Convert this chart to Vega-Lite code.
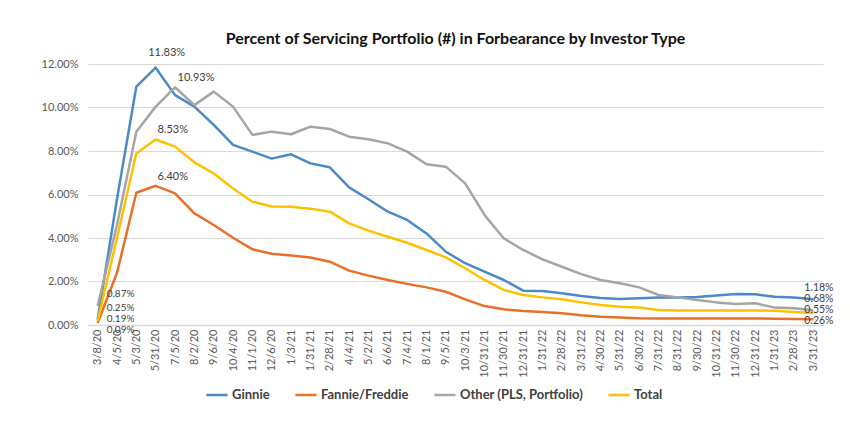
{
  "$schema": "https://vega.github.io/schema/vega-lite/v6.json",
  "width": 735,
  "height": 261,
  "autosize": {"type": "none"},
  "padding": {"left": 88, "top": 64, "right": 27, "bottom": 96},
  "background": "white",
  "title": {
    "text": "Percent of Servicing Portfolio (#) in Forbearance by Investor Type",
    "font": "Lato",
    "fontSize": 16,
    "fontWeight": "bold",
    "color": "#111111",
    "offset": 0,
    "anchor": "middle"
  },
  "config": {
    "view": {"stroke": null},
    "font": "Lato",
    "axis": {"labelFont": "Lato", "labelColor": "#595959", "labelFontSize": 11}
  },
  "data": {
    "values": [
      {"date":"3/8/20","series":"Ginnie","value":0.0025},
      {"date":"4/5/20","series":"Ginnie","value":0.058},
      {"date":"5/3/20","series":"Ginnie","value":0.1096},
      {"date":"5/31/20","series":"Ginnie","value":0.1183},
      {"date":"7/5/20","series":"Ginnie","value":0.1057},
      {"date":"8/2/20","series":"Ginnie","value":0.1004},
      {"date":"9/6/20","series":"Ginnie","value":0.092},
      {"date":"10/4/20","series":"Ginnie","value":0.0828},
      {"date":"11/1/20","series":"Ginnie","value":0.0797},
      {"date":"12/6/20","series":"Ginnie","value":0.0765},
      {"date":"1/3/21","series":"Ginnie","value":0.0785},
      {"date":"1/31/21","series":"Ginnie","value":0.0743},
      {"date":"2/28/21","series":"Ginnie","value":0.0725},
      {"date":"4/4/21","series":"Ginnie","value":0.0633},
      {"date":"5/2/21","series":"Ginnie","value":0.0578},
      {"date":"6/6/21","series":"Ginnie","value":0.0521},
      {"date":"7/4/21","series":"Ginnie","value":0.0483},
      {"date":"8/1/21","series":"Ginnie","value":0.0421},
      {"date":"9/5/21","series":"Ginnie","value":0.0337},
      {"date":"10/3/21","series":"Ginnie","value":0.0284},
      {"date":"10/31/21","series":"Ginnie","value":0.0245},
      {"date":"11/30/21","series":"Ginnie","value":0.0207},
      {"date":"12/31/21","series":"Ginnie","value":0.0158},
      {"date":"1/31/22","series":"Ginnie","value":0.0156},
      {"date":"2/28/22","series":"Ginnie","value":0.0146},
      {"date":"3/31/22","series":"Ginnie","value":0.0133},
      {"date":"4/30/22","series":"Ginnie","value":0.0124},
      {"date":"5/31/22","series":"Ginnie","value":0.012},
      {"date":"6/30/22","series":"Ginnie","value":0.0123},
      {"date":"7/31/22","series":"Ginnie","value":0.0126},
      {"date":"8/31/22","series":"Ginnie","value":0.0127},
      {"date":"9/30/22","series":"Ginnie","value":0.0129},
      {"date":"10/31/22","series":"Ginnie","value":0.0136},
      {"date":"11/30/22","series":"Ginnie","value":0.0142},
      {"date":"12/31/22","series":"Ginnie","value":0.0141},
      {"date":"1/31/23","series":"Ginnie","value":0.013},
      {"date":"2/28/23","series":"Ginnie","value":0.0126},
      {"date":"3/31/23","series":"Ginnie","value":0.0118},

      {"date":"3/8/20","series":"Fannie/Freddie","value":0.0009},
      {"date":"4/5/20","series":"Fannie/Freddie","value":0.024},
      {"date":"5/3/20","series":"Fannie/Freddie","value":0.0608},
      {"date":"5/31/20","series":"Fannie/Freddie","value":0.064},
      {"date":"7/5/20","series":"Fannie/Freddie","value":0.0605},
      {"date":"8/2/20","series":"Fannie/Freddie","value":0.0513},
      {"date":"9/6/20","series":"Fannie/Freddie","value":0.046},
      {"date":"10/4/20","series":"Fannie/Freddie","value":0.0401},
      {"date":"11/1/20","series":"Fannie/Freddie","value":0.0348},
      {"date":"12/6/20","series":"Fannie/Freddie","value":0.0328},
      {"date":"1/3/21","series":"Fannie/Freddie","value":0.0319},
      {"date":"1/31/21","series":"Fannie/Freddie","value":0.031},
      {"date":"2/28/21","series":"Fannie/Freddie","value":0.0291},
      {"date":"4/4/21","series":"Fannie/Freddie","value":0.025},
      {"date":"5/2/21","series":"Fannie/Freddie","value":0.0227},
      {"date":"6/6/21","series":"Fannie/Freddie","value":0.0207},
      {"date":"7/4/21","series":"Fannie/Freddie","value":0.0189},
      {"date":"8/1/21","series":"Fannie/Freddie","value":0.0173},
      {"date":"9/5/21","series":"Fannie/Freddie","value":0.0153},
      {"date":"10/3/21","series":"Fannie/Freddie","value":0.0118},
      {"date":"10/31/21","series":"Fannie/Freddie","value":0.0087},
      {"date":"11/30/21","series":"Fannie/Freddie","value":0.0072},
      {"date":"12/31/21","series":"Fannie/Freddie","value":0.0064},
      {"date":"1/31/22","series":"Fannie/Freddie","value":0.006},
      {"date":"2/28/22","series":"Fannie/Freddie","value":0.0054},
      {"date":"3/31/22","series":"Fannie/Freddie","value":0.0045},
      {"date":"4/30/22","series":"Fannie/Freddie","value":0.0038},
      {"date":"5/31/22","series":"Fannie/Freddie","value":0.0035},
      {"date":"6/30/22","series":"Fannie/Freddie","value":0.0031},
      {"date":"7/31/22","series":"Fannie/Freddie","value":0.003},
      {"date":"8/31/22","series":"Fannie/Freddie","value":0.003},
      {"date":"9/30/22","series":"Fannie/Freddie","value":0.003},
      {"date":"10/31/22","series":"Fannie/Freddie","value":0.003},
      {"date":"11/30/22","series":"Fannie/Freddie","value":0.003},
      {"date":"12/31/22","series":"Fannie/Freddie","value":0.003},
      {"date":"1/31/23","series":"Fannie/Freddie","value":0.0029},
      {"date":"2/28/23","series":"Fannie/Freddie","value":0.0028},
      {"date":"3/31/23","series":"Fannie/Freddie","value":0.0026},

      {"date":"3/8/20","series":"Other (PLS, Portfolio)","value":0.0087},
      {"date":"4/5/20","series":"Other (PLS, Portfolio)","value":0.046},
      {"date":"5/3/20","series":"Other (PLS, Portfolio)","value":0.0889},
      {"date":"5/31/20","series":"Other (PLS, Portfolio)","value":0.1004},
      {"date":"7/5/20","series":"Other (PLS, Portfolio)","value":0.1093},
      {"date":"8/2/20","series":"Other (PLS, Portfolio)","value":0.1011},
      {"date":"9/6/20","series":"Other (PLS, Portfolio)","value":0.1073},
      {"date":"10/4/20","series":"Other (PLS, Portfolio)","value":0.1004},
      {"date":"11/1/20","series":"Other (PLS, Portfolio)","value":0.0874},
      {"date":"12/6/20","series":"Other (PLS, Portfolio)","value":0.0889},
      {"date":"1/3/21","series":"Other (PLS, Portfolio)","value":0.0877},
      {"date":"1/31/21","series":"Other (PLS, Portfolio)","value":0.0912},
      {"date":"2/28/21","series":"Other (PLS, Portfolio)","value":0.0901},
      {"date":"4/4/21","series":"Other (PLS, Portfolio)","value":0.0866},
      {"date":"5/2/21","series":"Other (PLS, Portfolio)","value":0.0854},
      {"date":"6/6/21","series":"Other (PLS, Portfolio)","value":0.0835},
      {"date":"7/4/21","series":"Other (PLS, Portfolio)","value":0.0797},
      {"date":"8/1/21","series":"Other (PLS, Portfolio)","value":0.0739},
      {"date":"9/5/21","series":"Other (PLS, Portfolio)","value":0.0728},
      {"date":"10/3/21","series":"Other (PLS, Portfolio)","value":0.0651},
      {"date":"10/31/21","series":"Other (PLS, Portfolio)","value":0.0506},
      {"date":"11/30/21","series":"Other (PLS, Portfolio)","value":0.0398},
      {"date":"12/31/21","series":"Other (PLS, Portfolio)","value":0.0345},
      {"date":"1/31/22","series":"Other (PLS, Portfolio)","value":0.0302},
      {"date":"2/28/22","series":"Other (PLS, Portfolio)","value":0.0268},
      {"date":"3/31/22","series":"Other (PLS, Portfolio)","value":0.0234},
      {"date":"4/30/22","series":"Other (PLS, Portfolio)","value":0.0207},
      {"date":"5/31/22","series":"Other (PLS, Portfolio)","value":0.0192},
      {"date":"6/30/22","series":"Other (PLS, Portfolio)","value":0.0173},
      {"date":"7/31/22","series":"Other (PLS, Portfolio)","value":0.0138},
      {"date":"8/31/22","series":"Other (PLS, Portfolio)","value":0.0127},
      {"date":"9/30/22","series":"Other (PLS, Portfolio)","value":0.0115},
      {"date":"10/31/22","series":"Other (PLS, Portfolio)","value":0.0104},
      {"date":"11/30/22","series":"Other (PLS, Portfolio)","value":0.0097},
      {"date":"12/31/22","series":"Other (PLS, Portfolio)","value":0.01},
      {"date":"1/31/23","series":"Other (PLS, Portfolio)","value":0.008},
      {"date":"2/28/23","series":"Other (PLS, Portfolio)","value":0.0077},
      {"date":"3/31/23","series":"Other (PLS, Portfolio)","value":0.0068},

      {"date":"3/8/20","series":"Total","value":0.0019},
      {"date":"4/5/20","series":"Total","value":0.04},
      {"date":"5/3/20","series":"Total","value":0.0789},
      {"date":"5/31/20","series":"Total","value":0.0853},
      {"date":"7/5/20","series":"Total","value":0.082},
      {"date":"8/2/20","series":"Total","value":0.0748},
      {"date":"9/6/20","series":"Total","value":0.0697},
      {"date":"10/4/20","series":"Total","value":0.0628},
      {"date":"11/1/20","series":"Total","value":0.0567},
      {"date":"12/6/20","series":"Total","value":0.0545},
      {"date":"1/3/21","series":"Total","value":0.0544},
      {"date":"1/31/21","series":"Total","value":0.0535},
      {"date":"2/28/21","series":"Total","value":0.0521},
      {"date":"4/4/21","series":"Total","value":0.0467},
      {"date":"5/2/21","series":"Total","value":0.0434},
      {"date":"6/6/21","series":"Total","value":0.0406},
      {"date":"7/4/21","series":"Total","value":0.0378},
      {"date":"8/1/21","series":"Total","value":0.0345},
      {"date":"9/5/21","series":"Total","value":0.0311},
      {"date":"10/3/21","series":"Total","value":0.0261},
      {"date":"10/31/21","series":"Total","value":0.0207},
      {"date":"11/30/21","series":"Total","value":0.0161},
      {"date":"12/31/21","series":"Total","value":0.0138},
      {"date":"1/31/22","series":"Total","value":0.0127},
      {"date":"2/28/22","series":"Total","value":0.0118},
      {"date":"3/31/22","series":"Total","value":0.0104},
      {"date":"4/30/22","series":"Total","value":0.0092},
      {"date":"5/31/22","series":"Total","value":0.0084},
      {"date":"6/30/22","series":"Total","value":0.008},
      {"date":"7/31/22","series":"Total","value":0.0069},
      {"date":"8/31/22","series":"Total","value":0.0067},
      {"date":"9/30/22","series":"Total","value":0.0067},
      {"date":"10/31/22","series":"Total","value":0.0067},
      {"date":"11/30/22","series":"Total","value":0.0067},
      {"date":"12/31/22","series":"Total","value":0.0067},
      {"date":"1/31/23","series":"Total","value":0.0066},
      {"date":"2/28/23","series":"Total","value":0.006},
      {"date":"3/31/23","series":"Total","value":0.0055}
    ]
  },
  "encoding": {
    "x": {
      "field": "date",
      "type": "ordinal",
      "sort": null,
      "scale": {"type": "point", "padding": 0.5},
      "axis": {
        "title": null,
        "labelAngle": 270,
        "ticks": false,
        "labelPadding": 4,
        "domainColor": "#d9d9d9",
        "domainWidth": 1.5,
        "labelFontSize": 11
      }
    },
    "y": {
      "field": "value",
      "type": "quantitative",
      "scale": {"domain": [0, 0.12], "nice": false},
      "axis": {
        "title": null,
        "format": ".2%",
        "values": [0, 0.02, 0.04, 0.06, 0.08, 0.1, 0.12],
        "domain": false,
        "ticks": false,
        "labelPadding": 10,
        "gridColor": "#d9d9d9",
        "gridWidth": 1,
        "labelFontSize": 11
      }
    }
  },
  "layer": [
    {
      "mark": {"type": "line", "strokeWidth": 2.5, "strokeJoin": "round"},
      "encoding": {
        "color": {
          "field": "series",
          "type": "nominal",
          "scale": {
            "domain": ["Ginnie", "Fannie/Freddie", "Other (PLS, Portfolio)", "Total"],
            "range": ["#4A8AC9", "#E8702A", "#A5A5A5", "#FFC000"]
          },
          "legend": {
            "title": null,
            "orient": "none",
            "legendX": 117,
            "legendY": 319,
            "direction": "horizontal",
            "symbolType": "stroke",
            "symbolStrokeWidth": 2.5,
            "symbolSize": 450,
            "labelFontSize": 13,
            "labelFontWeight": "bold",
            "labelColor": "#404040",
            "labelFont": "Lato",
            "labelOffset": 3,
            "columnPadding": 20
          }
        }
      }
    },
    {
      "transform": [{"filter": "datum.date == '3/8/20' && (datum.series == 'Ginnie' || datum.series == 'Other (PLS, Portfolio)')"}],
      "mark": {"type": "text", "align": "left", "baseline": "middle", "dx": 9, "dy": -12, "fontSize": 10, "color": "#404040"},
      "encoding": {"text": {"field": "value", "format": ".2%"}}
    },
    {
      "transform": [{"filter": "datum.date == '3/8/20' && datum.series == 'Total'"}],
      "mark": {"type": "text", "align": "left", "baseline": "middle", "dx": 9, "dy": -2, "fontSize": 10, "color": "#404040"},
      "encoding": {"text": {"field": "value", "format": ".2%"}}
    },
    {
      "transform": [{"filter": "datum.date == '3/8/20' && datum.series == 'Fannie/Freddie'"}],
      "mark": {"type": "text", "align": "left", "baseline": "middle", "dx": 9, "dy": 7, "fontSize": 10, "color": "#404040"},
      "encoding": {"text": {"field": "value", "format": ".2%"}}
    },
    {
      "transform": [{"filter": "datum.date == '5/31/20' && datum.series == 'Ginnie'"}],
      "mark": {"type": "text", "align": "center", "baseline": "middle", "dx": 11, "dy": -15, "fontSize": 11, "color": "#404040"},
      "encoding": {"text": {"field": "value", "format": ".2%"}}
    },
    {
      "transform": [{"filter": "datum.date == '7/5/20' && datum.series == 'Other (PLS, Portfolio)'"}],
      "mark": {"type": "text", "align": "center", "baseline": "middle", "dx": 21, "dy": -9, "fontSize": 11, "color": "#404040"},
      "encoding": {"text": {"field": "value", "format": ".2%"}}
    },
    {
      "transform": [{"filter": "datum.date == '5/31/20' && (datum.series == 'Total' || datum.series == 'Fannie/Freddie')"}],
      "mark": {"type": "text", "align": "center", "baseline": "middle", "dx": 17, "dy": -9, "fontSize": 11, "color": "#404040"},
      "encoding": {"text": {"field": "value", "format": ".2%"}}
    },
    {
      "transform": [{"filter": "datum.date == '3/31/23' && (datum.series == 'Ginnie' || datum.series == 'Other (PLS, Portfolio)')"}],
      "mark": {"type": "text", "align": "left", "baseline": "middle", "dx": -9, "dy": -11, "fontSize": 10.5, "color": "#404040"},
      "encoding": {"text": {"field": "value", "format": ".2%"}}
    },
    {
      "transform": [{"filter": "datum.date == '3/31/23' && datum.series == 'Total'"}],
      "mark": {"type": "text", "align": "left", "baseline": "middle", "dx": -9, "dy": -3, "fontSize": 10.5, "color": "#404040"},
      "encoding": {"text": {"field": "value", "format": ".2%"}}
    },
    {
      "transform": [{"filter": "datum.date == '3/31/23' && datum.series == 'Fannie/Freddie'"}],
      "mark": {"type": "text", "align": "left", "baseline": "middle", "dx": -9, "dy": 2, "fontSize": 10.5, "color": "#404040"},
      "encoding": {"text": {"field": "value", "format": ".2%"}}
    }
  ]
}
